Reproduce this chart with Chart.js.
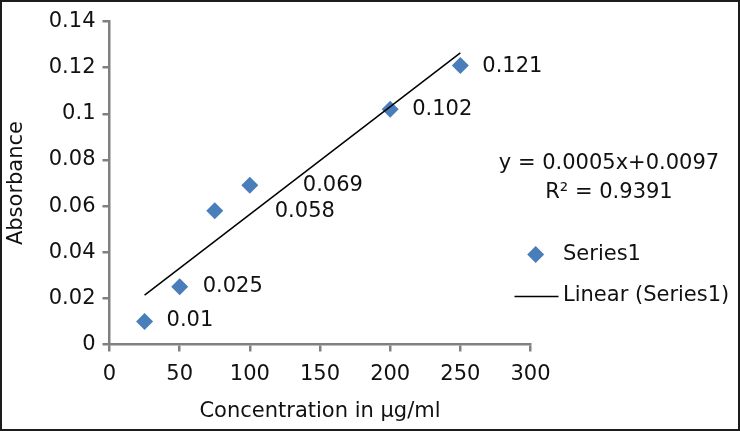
<!DOCTYPE html>
<html>
<head>
<meta charset="utf-8">
<script src="https://cdn.jsdelivr.net/npm/chart.js@4.4.1/dist/chart.umd.min.js"></script>
<style>
  html, body { margin: 0; padding: 0; background: #fff; }
  #frame { width: 740px; height: 431px; box-sizing: border-box; border: 2px solid #1c1c1c; background: #fff; }
  canvas { display: block; }
</style>
</head>
<body>
<div id="frame"><canvas id="calib" width="736" height="427"></canvas></div>
<script>
const concentrations = [25, 50, 75, 100, 200, 250];
const absorbance = [0.01, 0.025, 0.058, 0.069, 0.102, 0.121];
const trendX = [25, 250];
const trendY = [0.0214, 0.1264];
const xTicks = [0, 50, 100, 150, 200, 250, 300];
const yTicks = [0, 0.02, 0.04, 0.06, 0.08, 0.1, 0.12, 0.14];
const equationLines = ['y = 0.0005x+0.0097', 'R² = 0.9391'];
const seriesName = 'Series1';
const trendName = 'Linear (Series1)';
const xTitle = 'Concentration in µg/ml';
const yTitle = 'Absorbance';

const BLUE = '#4A7EBB';
const AXIS = '#808080';
const TEXT = '#111';
const FONT = { family: '"DejaVu Sans", sans-serif', size: 21, lineHeight: 1.2 };
const CSS_FONT = '21px "DejaVu Sans", sans-serif';
const MARK_R = 8.5;

// where each value label sits, relative to its point (px)
const labelShift = [[22, -1], [23, 0], [60, 1], [53, 0], [22, 0], [22, 1]];

function diamond(ctx, x, y, r) {
  ctx.beginPath();
  ctx.moveTo(x, y - r);
  ctx.lineTo(x + r, y);
  ctx.lineTo(x, y + r);
  ctx.lineTo(x - r, y);
  ctx.closePath();
  ctx.fill();
}

const annotate = {
  id: 'annotate',
  afterDatasetsDraw(chart) {
    const ctx = chart.ctx;
    const area = chart.chartArea;
    const meta = chart.getDatasetMeta(0);
    ctx.save();
    ctx.font = CSS_FONT;
    ctx.fillStyle = TEXT;
    ctx.textBaseline = 'middle';

    // value labels next to the points
    ctx.textAlign = 'left';
    meta.data.forEach((pt, i) => {
      ctx.fillText(String(absorbance[i]), pt.x + labelShift[i][0], pt.y + labelShift[i][1]);
    });

    // trendline equation
    ctx.textAlign = 'center';
    ctx.fillText(equationLines[0], area.right + 78.5, area.top + 142);
    ctx.fillText(equationLines[1], area.right + 78.5, area.top + 171);

    // legend
    ctx.textAlign = 'left';
    ctx.fillStyle = BLUE;
    diamond(ctx, area.right + 5.2, area.top + 233, MARK_R);
    ctx.fillStyle = TEXT;
    ctx.fillText(seriesName, area.right + 32.5, area.top + 233);
    ctx.strokeStyle = '#000';
    ctx.lineWidth = 1.5;
    ctx.beginPath();
    ctx.moveTo(area.right - 16, area.top + 275);
    ctx.lineTo(area.right + 28, area.top + 275);
    ctx.stroke();
    ctx.fillText(trendName, area.right + 32.5, area.top + 274);
    ctx.restore();
  }
};

new Chart(document.getElementById('calib'), {
  type: 'scatter',
  data: {
    datasets: [
      {
        label: seriesName,
        data: concentrations.map((x, i) => ({ x, y: absorbance[i] })),
        pointStyle: 'rectRot',
        pointRadius: MARK_R,
        pointHoverRadius: MARK_R,
        backgroundColor: BLUE,
        borderColor: BLUE,
        borderWidth: 0,
        showLine: false,
        order: 1
      },
      {
        label: trendName,
        data: trendX.map((x, i) => ({ x, y: trendY[i] })),
        showLine: true,
        pointRadius: 0,
        borderColor: '#000',
        borderWidth: 1.5,
        order: 0
      }
    ]
  },
  options: {
    responsive: false,
    animation: false,
    devicePixelRatio: 1,
    layout: { padding: { top: 19, right: 207.5, bottom: 0, left: 0 } },
    plugins: { legend: { display: false }, tooltip: { enabled: false } },
    scales: {
      x: {
        type: 'linear',
        min: xTicks[0],
        max: xTicks[xTicks.length - 1],
        afterBuildTicks: s => { s.ticks = xTicks.map(v => ({ value: v })); },
        afterFit: s => { s.height = 84.5; },
        grid: { drawOnChartArea: false, tickLength: 7, tickColor: AXIS, lineWidth: 2.5 },
        border: { color: AXIS, width: 2.5 },
        ticks: { padding: 10, color: TEXT, font: FONT, maxRotation: 0, callback: v => String(v) },
        title: { display: true, text: xTitle, color: TEXT, font: FONT, padding: { top: 0, bottom: 5 } }
      },
      y: {
        type: 'linear',
        min: yTicks[0],
        max: yTicks[yTicks.length - 1],
        afterBuildTicks: s => { s.ticks = yTicks.map(v => ({ value: v })); },
        afterFit: s => { s.width = 107.5; },
        grid: { drawOnChartArea: false, tickLength: 7, tickColor: AXIS, lineWidth: 2.5 },
        border: { color: AXIS, width: 2.5 },
        ticks: { padding: 7, color: TEXT, font: FONT, callback: v => String(+Number(v).toFixed(2)) },
        title: { display: true, text: yTitle, color: TEXT, font: FONT, padding: { top: 2, bottom: 0 } }
      }
    }
  },
  plugins: [annotate]
});
</script>
</body>
</html>
